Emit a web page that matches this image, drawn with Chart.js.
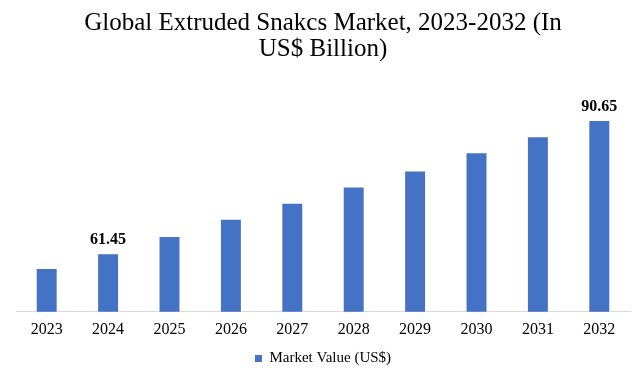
<!DOCTYPE html>
<html>
<head>
<meta charset="utf-8">
<script src="https://cdn.jsdelivr.net/npm/chart.js@4"></script>
<style>
    html, body { margin: 0; padding: 0; background: #ffffff; }
    #wrap { width: 643px; height: 381px; }
</style>
</head>
<body>
<div id="wrap"><canvas id="myChart" width="643" height="381"></canvas></div>
<script>
// chart values
const categories = ["2023", "2024", "2025", "2026", "2027", "2028", "2029", "2030", "2031", "2032"];
const marketValues = [58.2, 61.45, 65.2, 69.0, 72.5, 76.1, 79.6, 83.6, 87.1, 90.65];
const valueLabels = ["", "61.45", "", "", "", "", "", "", "", "90.65"];
const yMin = 48.8;
const yMax = 100;

const serif = "'Liberation Serif', 'DejaVu Serif', serif";

// draw value labels only where the reference shows them
const barLabels = {
    id: "barLabels",
    afterDatasetsDraw(chart) {
        const ctx = chart.ctx;
        const bars = chart.getDatasetMeta(0).data;
        ctx.save();
        ctx.font = "bold 16px " + serif;
        ctx.fillStyle = "#000000";
        ctx.textAlign = "center";
        ctx.textBaseline = "bottom";
        bars.forEach((bar, i) => {
            if (valueLabels[i]) {
                ctx.fillText(valueLabels[i], bar.x, bar.y - 6);
            }
        });
        ctx.restore();
    }
};

function init() {
    const canvas = document.getElementById("myChart");

    new Chart(canvas, {
        type: "bar",
        data: {
            labels: categories,
            datasets: [{
                label: "Market Value (US$)",
                data: marketValues,
                backgroundColor: "#4472C4",
                barPercentage: 0.65,
                categoryPercentage: 0.5
            }]
        },
        options: {
            responsive: false,
            animation: false,
            layout: { padding: { left: 16, right: 13, top: 10, bottom: 5 } },
            plugins: {
                title: {
                    display: true,
                    text: ["Global Extruded Snakcs Market, 2023-2032 (In", "US$ Billion)"],
                    color: "#000000",
                    font: { family: serif, size: 25, weight: "normal", lineHeight: 1.05 },
                    padding: { top: 0, bottom: 16 }
                },
                legend: {
                    display: true,
                    position: "bottom",
                    labels: {
                        color: "#000000",
                        font: { family: serif, size: 15 },
                        boxWidth: 7,
                        boxHeight: 7,
                        padding: 5
                    }
                },
                tooltip: { enabled: false }
            },
            scales: {
                x: {
                    grid: { display: false },
                    border: { color: "#d9d9d9", width: 1 },
                    ticks: { color: "#000000", font: { family: serif, size: 16 }, padding: 0 },
                    afterFit(scale) { scale.height += 7; } // gap between year labels and legend
                },
                y: {
                    display: false,
                    min: yMin,
                    max: yMax
                }
            }
        },
        plugins: [barLabels]
    });
}

document.addEventListener("DOMContentLoaded", init);
</script>
</body>
</html>
